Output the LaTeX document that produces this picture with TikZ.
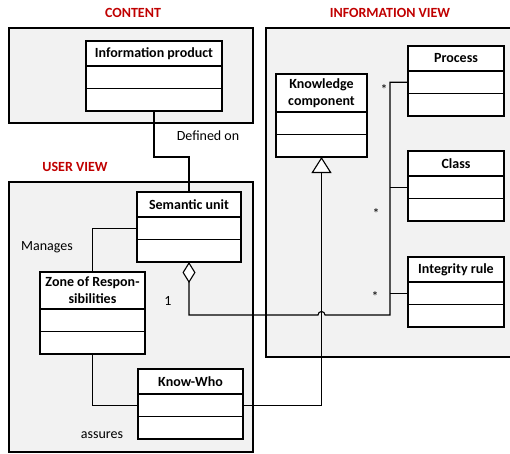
\documentclass[tikz,border=0pt]{standalone}
\usepackage{fontspec}
\setmainfont{Carlito}
\usetikzlibrary{positioning}
\usetikzlibrary{arrows.meta}
\definecolor{pkgred}{RGB}{192,0,0}
\definecolor{pkggray}{RGB}{242,242,242}
\tikzset{
 package/.style={draw, fill=pkggray, line width=1.1pt},
 pkglabel/.style={text=pkgred, font=\fontsize{14}{17}\selectfont\bfseries},
 classhead/.style={draw, fill=white, line width=1.1pt, outer sep=0pt, inner sep=1pt, align=center, font=\fontsize{14}{17}\selectfont\bfseries, minimum height=25pt},
 classrow/.style={draw, fill=white, line width=1.1pt, outer sep=0pt, minimum height=22.5pt},
 assoc/.style={line width=1.1pt},
 lbl/.style={font=\fontsize{14}{17}\selectfont}
}

\begin{document}
\begin{tikzpicture}[x=1pt,y=-1pt]
\clip (0,0) rectangle (510,453);
% packages
\draw[package] (9,28) rectangle (253,123);
\draw[package] (9,182) rectangle (253,452);
\draw[package] (266,28) rectangle (515,357);
\node[pkglabel] (content) at (133,13) {CONTENT};
\node[pkglabel] (userview) at (75,167) {USER VIEW};
\node[pkglabel] (infoview) at (390,13) {INFORMATION VIEW};

% content
\node[classhead, minimum width=136pt, anchor=north west] (ip) at (86,41) {Information product};
\node[classrow, minimum width=136pt, below=0pt of ip] (ip-a) {};
\node[classrow, minimum width=136pt, below=0pt of ip-a] (ip-b) {};

% user view
\node[classhead, minimum width=104pt, anchor=north west] (su) at (137,192) {Semantic unit};
\node[classrow, minimum width=104pt, below=0pt of su] (su-a) {};
\node[classrow, minimum width=104pt, below=0pt of su-a] (su-b) {};
\node[classhead, minimum width=105pt, minimum height=37pt, anchor=north west] (zr) at (40,272) {Zone of Respon-\\sibilities};
\node[classrow, minimum width=105pt, below=0pt of zr] (zr-a) {};
\node[classrow, minimum width=105pt, below=0pt of zr-a] (zr-b) {};
\node[classhead, minimum width=105pt, anchor=north west] (kw) at (138,369) {Know-Who};
\node[classrow, minimum width=105pt, below=0pt of kw] (kw-a) {};
\node[classrow, minimum width=105pt, below=0pt of kw-a] (kw-b) {};

% information view
\node[classhead, minimum width=91pt, minimum height=38pt, anchor=north west] (kc) at (276,74) {Knowledge\\component};
\node[classrow, minimum width=91pt, below=0pt of kc] (kc-a) {};
\node[classrow, minimum width=91pt, below=0pt of kc-a] (kc-b) {};
\node[classhead, minimum width=96pt, anchor=north west] (pr) at (408,46) {Process};
\node[classrow, minimum width=96pt, below=0pt of pr] (pr-a) {};
\node[classrow, minimum width=96pt, below=0pt of pr-a] (pr-b) {};
\node[classhead, minimum width=96pt, anchor=north west] (cl) at (408,151) {Class};
\node[classrow, minimum width=96pt, below=0pt of cl] (cl-a) {};
\node[classrow, minimum width=96pt, below=0pt of cl-a] (cl-b) {};
\node[classhead, minimum width=96pt, anchor=north west] (ir) at (408,257) {Integrity rule};
\node[classrow, minimum width=96pt, below=0pt of ir] (ir-a) {};
\node[classrow, minimum width=96pt, below=0pt of ir-a] (ir-b) {};

% connectors
\draw[assoc] (ip-b.south) -- ++(0,46) -| (su.north);
\node[lbl] (definedon) at (208,136) {Defined on};
\draw[assoc] (su-a.west) -| (zr.north);
\node[lbl] (manages) at (47,247) {Manages};
\draw[assoc] (zr-b.south) |- (kw-a.west);
\node[lbl] (assures) at (102,435) {assures};
\draw[assoc, -{Triangle[width=20pt,length=16pt,fill=white]}] (kw-a.east) -| (kc-b.south);
\coordinate (bus) at (390,315);
\draw[assoc, {Diamond[length=21pt,width=13pt,fill=white]}-] (su-b.south) -- (su-b.south |- bus) -- (318,315) arc[start angle=180, end angle=0, radius=3.5pt] -- (bus) -- (bus |- pr-a.west) -- (pr-a.west);
\draw[assoc] (cl-a.west) -- (cl-a.west -| bus);
\draw[assoc] (ir-a.west) -- (ir-a.west -| bus);
\node[lbl] (one) at (168,301) {1};
\node[lbl] (starpr) at (384,90) {*};
\node[lbl] (starcl) at (376,214) {*};
\node[lbl] (starir) at (375,297) {*};
\end{tikzpicture}
\end{document}
